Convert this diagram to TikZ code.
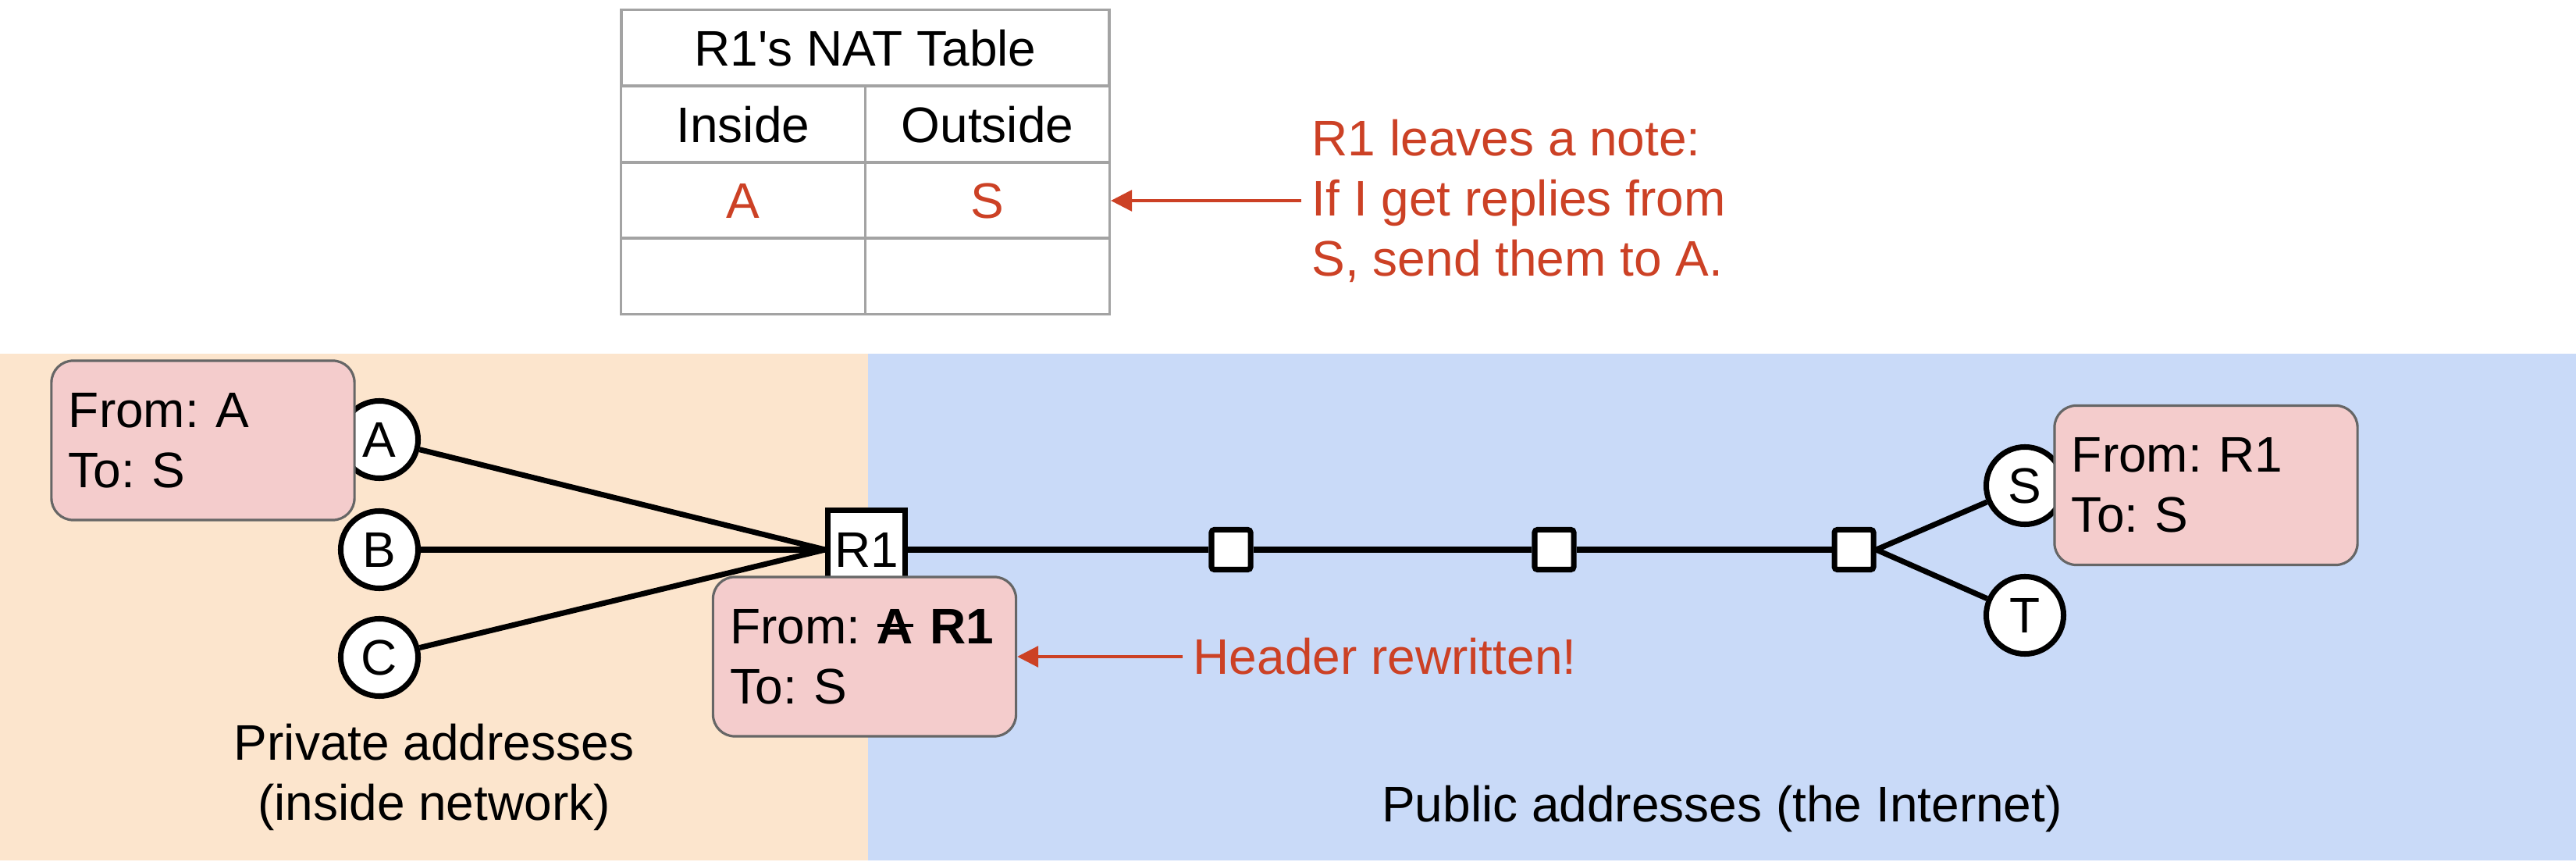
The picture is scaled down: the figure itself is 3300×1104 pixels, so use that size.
\documentclass[tikz,border=0pt]{standalone}
\usepackage{fontspec}
\setmainfont{Liberation Sans}
\frenchspacing
\newsavebox\strikebox
\newcommand\mystrike[1]{\sbox\strikebox{#1}\rlap{\usebox\strikebox}\rule[0.33em]{\wd\strikebox}{1.1pt}}
\usetikzlibrary{arrows.meta}
\definecolor{orangebg}{HTML}{FCE5CD}
\definecolor{bluebg}{HTML}{C9DAF8}
\definecolor{pinkfill}{HTML}{F4CCCC}
\definecolor{boxgray}{HTML}{666666}
\definecolor{tablegray}{HTML}{A3A3A3}
\definecolor{notered}{HTML}{CC4125}
\begin{document}
\begin{tikzpicture}[x=0.01cm,y=-0.01cm,
  font=\fontsize{18.2pt}{21.9pt}\selectfont\frenchspacing,
  host/.style={circle, draw=black, line width=2pt, fill=white, minimum size=0.99cm, inner sep=0pt},
  router/.style={rectangle, draw=black, line width=2pt, fill=white, minimum width=0.99cm, minimum height=1.0cm, inner sep=0pt},
  hop/.style={rectangle, draw=black, line width=2pt, fill=white, minimum width=0.5cm, minimum height=0.51cm, inner sep=0pt, rounded corners=1pt},
  link/.style={line width=2pt, draw=black},
  pkt/.style={draw=boxgray, line width=0.9pt, fill=pinkfill, rounded corners=0.28cm, align=left, text width=3.44cm, inner xsep=0.22cm, inner ysep=0pt, minimum height=2.04cm},
  cell/.style={draw=tablegray, line width=1pt, minimum width=3.125cm, minimum height=0.975cm, text height=0.46cm, text depth=0cm, inner sep=0pt},
  note/.style={text=notered, align=left, inner xsep=0.13cm, inner ysep=0pt, anchor=west},
  notearrow/.style={draw=notered, line width=0.9pt, -{Triangle[length=0.27cm,width=0.27cm]}},
  area/.style={align=center, inner sep=0pt}
]
\useasboundingbox (0,0) rectangle (3300,1104);
\fill[white] (0,0) rectangle (3300,1104);
\fill[orangebg] (0,453) rectangle (1112,1102);
\fill[bluebg] (1112,453) rectangle (3300,1102);

% NAT table
\node[cell, minimum width=6.25cm] (title) at (1108.5,61.5) {R1\textquotesingle s NAT Table};
\node[cell] (c21) at (952,159) {Inside};
\node[cell] (c22) at (1265,159) {Outside};
\node[cell, text=notered] (c31) at (952,256.5) {A};
\node[cell, text=notered] (c32) at (1265,256.5) {S};
\node[cell] (c41) at (952,353.5) {};
\node[cell] (c42) at (1265,353.5) {};

\node[note] (nat) at (1667,257) {R1 leaves a note:\\If I get replies from\\S, send them to A.};
\draw[notearrow] (nat.west) -- (nat.west -| c32.east);

% network
\node[host] (A) at (486,563) {A};
\node[host] (B) at (486,704) {B};
\node[host] (C) at (486,842) {C};
\node[router] (R1) at (1110,704) {R1};
\node[hop] (h1) at (1577,704) {};
\node[hop] (h2) at (1991,704) {};
\node[hop] (h3) at (2375,704) {};
\node[host] (S) at (2594,622) {S};
\node[host] (T) at (2594,788) {T};

\draw[link] (A) -- (R1.west);
\draw[link] (B) -- (R1.west);
\draw[link] (C) -- (R1.west);
\draw[link] (R1) -- (h1);
\draw[link] (h1) -- (h2);
\draw[link] (h2) -- (h3);
\draw[link] (h3.east) -- (S);
\draw[link] (h3.east) -- (T);

% packets
\node[pkt] (p1) at (260,564) {From: A\\To: S};
\node[pkt] (p2) at (1107.5,841) {\mbox{From: \textbf{\mystrike{A} R1}}\\To: S};
\node[pkt] (p3) at (2826,621.5) {From: R1\\To: S};

\node[note] (hdr) at (1515,841) {Header rewritten!};
\draw[notearrow] (hdr.west) -- (hdr.west -| p2.east);

% area labels
\node[area] (priv) at (556,995) {Private addresses\\(inside network)};
\node[area, anchor=base] (pub) at (2206,1052) {Public addresses (the Internet)};
\end{tikzpicture}
\end{document}
